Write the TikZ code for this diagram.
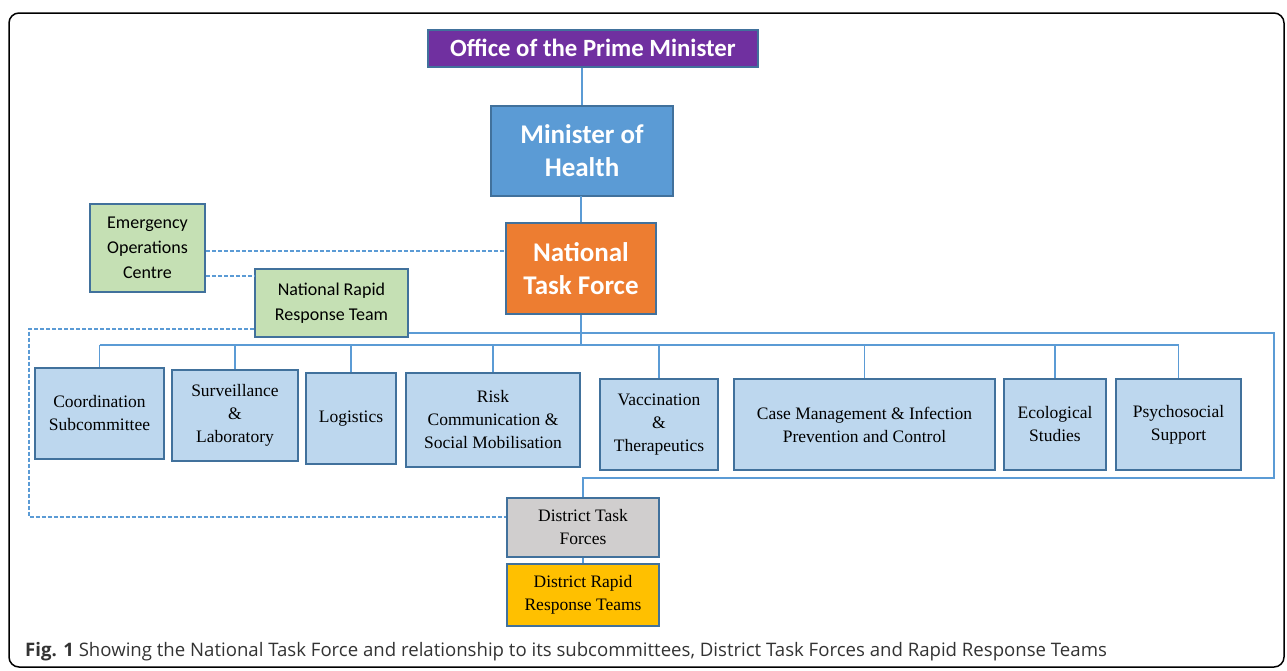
\documentclass[tikz,border=0pt]{standalone}
\usepackage{fontspec}
\setmainfont{Liberation Serif}
\newfontfamily\calibri{Carlito}
\newfontfamily\capfont{Open Sans}
\usetikzlibrary{calc}
\definecolor{edge}{HTML}{41719C}
\definecolor{linkblue}{HTML}{5B9BD5}
\definecolor{pmpurple}{HTML}{7030A0}
\definecolor{mohblue}{HTML}{5B9BD5}
\definecolor{ntforange}{HTML}{ED7D31}
\definecolor{teamgreen}{HTML}{C5E0B4}
\definecolor{subblue}{HTML}{BDD7EE}
\definecolor{dtfgray}{HTML}{D0CECE}
\definecolor{drrtgold}{HTML}{FFC000}
\begin{document}
\begin{tikzpicture}[x=1pt,y=-1pt,
    box/.style={draw=edge,line width=1.6pt,inner sep=0pt,align=center},
    headbox/.style={box,text=white,font=\calibri\bfseries\fontsize{27}{33}\selectfont},
    teambox/.style={box,fill=teamgreen,font=\calibri\fontsize{18}{25}\selectfont},
    subbox/.style={box,fill=subblue,font=\fontsize{17.5}{23}\selectfont},
    link/.style={draw=linkblue,line width=1.5pt},
    dashlink/.style={link,dash pattern=on 4pt off 2pt}]
  \useasboundingbox (0,0) rectangle (1287,670);
  \draw[line width=1.5pt,rounded corners=10pt] (9,13) rectangle (1284,667);

  % top of the chart
  \node[headbox,fill=pmpurple,minimum width=330,minimum height=37,text depth=2pt,
        font=\calibri\bfseries\fontsize{24.8}{28}\selectfont] (opm) at (593,48.5) {Office of the Prime Minister};
  \node[headbox,fill=mohblue,minimum width=182,minimum height=90] (moh) at (582,151) {Minister of\\Health};
  \node[headbox,fill=ntforange,minimum width=150,minimum height=91] (ntf) at (581,268.5) {National\\Task Force};
  \node[teambox,minimum width=115,minimum height=88] (eoc) at (147.5,248) {Emergency\\Operations\\Centre};
  \node[teambox,minimum width=153,minimum height=68] (nrrt) at (331.5,303) {National Rapid\\Response Team};

  % subcommittees
  \node[subbox,minimum width=129,minimum height=91] (coord) at (99.5,413.5) {Coordination\\Subcommittee};
  \node[subbox,minimum width=126,minimum height=91] (surv) at (235,415.5) {Surveillance\\\&\\Laboratory};
  \node[subbox,minimum width=90,minimum height=91] (logi) at (351,418.5) {Logistics};
  \node[subbox,minimum width=174,minimum height=94] (risk) at (493,420) {Risk\\Communication \&\\Social Mobilisation};
  \node[subbox,minimum width=118,minimum height=91] (vacc) at (659,424.5) {Vaccination\\\&\\Therapeutics};
  \node[subbox,minimum width=261,minimum height=91] (casem) at (864.5,424.5) {Case Management \& Infection\\Prevention and Control};
  \node[subbox,minimum width=102,minimum height=91] (eco) at (1055,424.5) {Ecological\\Studies};
  \node[subbox,minimum width=125,minimum height=91] (psy) at (1178.5,424.5) {Psychosocial\\Support};

  % district level
  \node[subbox,fill=dtfgray,minimum width=152,minimum height=59] (dtf) at (583,527.5) {District Task\\Forces};
  \node[subbox,fill=drrtgold,minimum width=152,minimum height=62] (drrt) at (583,595) {District Rapid\\Response Teams};

  \coordinate (bus) at (584,345);
  \coordinate (loop) at (1274,478);
  \coordinate (dleft) at (29,517);

  \draw[link] (moh.north) -- (moh.north |- opm.south);
  \draw[link] (moh.south) -- (moh.south -| ntf.north) -- (ntf.north);
  \draw[link] (ntf.south) -- (ntf.south |- bus);
  \draw[link] (coord.north |- bus) -- (psy.north |- bus);
  \foreach \n in {coord,surv,logi,risk,vacc,casem,eco,psy}
    \draw[link] (\n.north |- bus) -- (\n.north);
  \draw[link] ([yshift=5pt]nrrt.south east) -| (loop) -| (dtf.north);
  \draw[link] (dtf.south) -- (drrt.north);

  % dashed links
  \draw[dashlink] ([yshift=-3pt]eoc.east) -- ([yshift=-3pt]eoc.east -| ntf.west);
  \draw[dashlink] ([yshift=-28pt]eoc.east) -- ([yshift=-28pt]eoc.east -| nrrt.west);
  \draw[dashlink] ([yshift=9pt]nrrt.south west) -| (dleft) -- (dleft -| dtf.west);

  \node[anchor=west,inner sep=0pt,text=black!80,
        font=\capfont\fontsize{18.6}{21}\selectfont] (cap) at (25,652)
    {\textbf{Fig. 1} Showing the National Task Force and relationship to its subcommittees, District Task Forces and Rapid Response Teams};
\end{tikzpicture}
\end{document}
